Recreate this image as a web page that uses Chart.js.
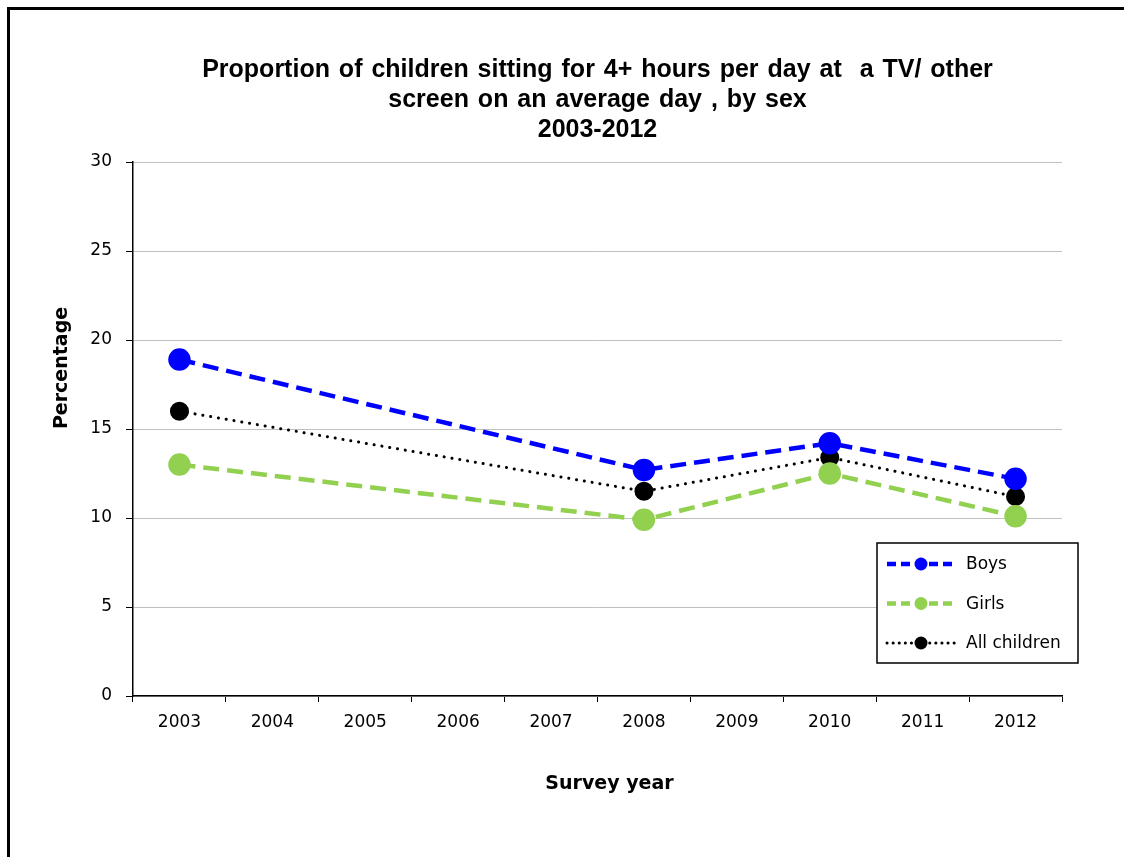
<!DOCTYPE html>
<html>
<head>
<meta charset="utf-8">
<title>Children screen time by sex</title>
<script src="https://cdn.jsdelivr.net/npm/chart.js@4/dist/chart.umd.min.js"></script>
<style>
  body { margin: 0; background: #fff; }
  canvas { display: block; }
</style>
</head>
<body>
<canvas id="screenChart" width="1124" height="857"></canvas>
<script>
// survey years and percentages (null = no survey that year)
const years = ['2003', '2004', '2005', '2006', '2007', '2008', '2009', '2010', '2011', '2012'];
const boys = [18.9, null, null, null, null, 12.7, null, 14.2, null, 12.2];
const girls = [13.0, null, null, null, null, 9.9, null, 12.5, null, 10.1];
const allChildren = [16.0, null, null, null, null, 11.5, null, 13.4, null, 11.2];
const yTicks = [0, 5, 10, 15, 20, 25, 30];

const tickFont = { family: 'DejaVu Sans', size: 17 };
const axisTitleFont = 'bold 19px "DejaVu Sans"';

// white page with the heavy frame round it
const frame = {
    id: 'frame',
    beforeDraw(chart) {
        const ctx = chart.ctx;
        ctx.save();
        ctx.fillStyle = '#fff';
        ctx.fillRect(0, 0, chart.width, chart.height);
        ctx.strokeStyle = '#000';
        ctx.lineWidth = 3;
        ctx.strokeRect(8.5, 8.5, chart.width + 20, chart.height + 20);
        ctx.restore();
        // slightly looser word gaps for the title
        ctx.wordSpacing = '2px';
    },
    beforeDatasetsDraw(chart) {
        chart.ctx.wordSpacing = '0px';
    }
};

// axis titles sit a little off centre, so they are drawn here
const axisTitles = {
    id: 'axisTitles',
    afterDraw(chart) {
        const ctx = chart.ctx;
        const area = chart.chartArea;
        ctx.save();
        ctx.wordSpacing = '0px';
        ctx.fillStyle = '#000';
        ctx.font = axisTitleFont;
        ctx.textAlign = 'center';
        ctx.textBaseline = 'middle';
        ctx.fillText('Survey year', area.left + (area.right - area.left) / 2 + 12, area.bottom + 88);
        ctx.translate(62, area.top + 206);
        ctx.rotate(-Math.PI / 2);
        ctx.fillText('Percentage', 0, 0);
        ctx.restore();
    }
};

// legend in a box, bottom right of the plot
const boxLegend = {
    id: 'boxLegend',
    afterDraw(chart) {
        const ctx = chart.ctx;
        const left = 877, top = 543, w = 201, h = 120;
        ctx.save();
        ctx.wordSpacing = '0px';
        ctx.fillStyle = '#fff';
        ctx.fillRect(left, top, w, h);
        ctx.strokeStyle = '#000';
        ctx.lineWidth = 1.5;
        ctx.strokeRect(left, top, w, h);
        chart.data.datasets.forEach(function (ds, i) {
            const y = top + 21 + i * 39.5;
            ctx.strokeStyle = ds.borderColor;
            ctx.lineWidth = ds.borderWidth;
            ctx.lineCap = ds.borderCapStyle || 'butt';
            ctx.setLineDash(ds.legendDash);
            ctx.beginPath();
            ctx.moveTo(left + 10, y);
            ctx.lineTo(left + 80, y);
            ctx.stroke();
            ctx.setLineDash([]);
            ctx.fillStyle = ds.pointBackgroundColor;
            ctx.beginPath();
            ctx.arc(left + 44, y, 6.5, 0, Math.PI * 2);
            ctx.fill();
            ctx.fillStyle = '#000';
            ctx.font = '17px "DejaVu Sans"';
            ctx.textBaseline = 'middle';
            ctx.textAlign = 'left';
            ctx.fillText(ds.label, left + 89, y + 1);
        });
        ctx.restore();
    }
};

Chart.defaults.color = '#000';

new Chart(document.getElementById('screenChart'), {
    type: 'line',
    data: {
        labels: years,
        datasets: [{
            label: 'Boys',
            data: boys,
            borderColor: '#0000ff',
            pointBackgroundColor: '#0000ff',
            pointBorderColor: '#0000ff',
            borderWidth: 4.5,
            borderDash: [16, 8],
            legendDash: [9, 5],
            pointRadius: 9,
            spanGaps: true
        }, {
            label: 'Girls',
            data: girls,
            borderColor: '#92d050',
            pointBackgroundColor: '#92d050',
            pointBorderColor: '#92d050',
            borderWidth: 4.5,
            borderDash: [16, 8],
            legendDash: [9, 5],
            pointRadius: 9,
            spanGaps: true
        }, {
            label: 'All children',
            data: allChildren,
            borderColor: '#000',
            pointBackgroundColor: '#000',
            pointBorderColor: '#000',
            borderWidth: 3,
            borderCapStyle: 'round',
            borderDash: [0.1, 7.8],
            legendDash: [0.1, 6],
            pointRadius: 8,
            spanGaps: true
        }]
    },
    options: {
        responsive: false,
        animation: false,
        devicePixelRatio: 1,
        layout: { padding: { left: 10, right: 62, top: 0, bottom: 0 } },
        plugins: {
            legend: { display: false },
            tooltip: { enabled: false },
            title: {
                display: true,
                fullSize: false,
                text: ['Proportion of children sitting for 4+ hours per day at  a TV/ other',
                       'screen on an average day , by sex', '2003-2012'],
                font: { family: 'Liberation Sans', size: 25, weight: 'bold', lineHeight: 30 / 25 },
                padding: { top: 55, bottom: 17 }
            }
        },
        scales: {
            x: {
                offset: true,
                afterFit(scale) { scale.height = 161; },
                grid: { offset: true, drawOnChartArea: false, tickLength: 6, tickColor: '#000' },
                border: { color: '#000', width: 1.5 },
                ticks: { font: tickFont, padding: 10, maxRotation: 0 }
            },
            y: {
                min: 0,
                max: 30,
                afterFit(scale) { scale.width = 123; },
                afterBuildTicks(scale) { scale.ticks = yTicks.map(v => ({ value: v })); },
                grid: { color: '#c0c0c0', tickColor: '#000', tickLength: 7 },
                border: { color: '#000', width: 1.5 },
                ticks: { font: tickFont, padding: 14 }
            }
        }
    },
    plugins: [frame, axisTitles, boxLegend]
});
</script>
</body>
</html>
